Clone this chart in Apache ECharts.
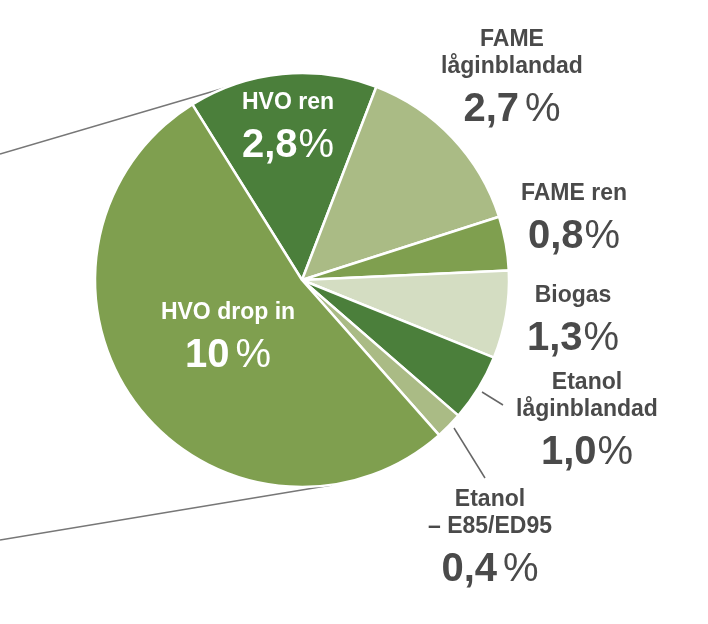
<!DOCTYPE html>
<html><head><meta charset="utf-8">
<script src="https://cdn.jsdelivr.net/npm/echarts@6/dist/echarts.min.js"></script>
<style>html,body{margin:0;padding:0;background:#fff}#c{width:708px;height:624px}</style>
</head><body><div id="c"></div>
<script>
const categories = ['HVO ren', 'FAME låginblandad', 'FAME ren', 'Biogas', 'Etanol låginblandad', 'Etanol – E85/ED95', 'HVO drop in'];
const nameLines = [['HVO ren'], ['FAME', 'låginblandad'], ['FAME ren'], ['Biogas'], ['Etanol', 'låginblandad'], ['Etanol', '– E85/ED95'], ['HVO drop in']];
const values = [2.8, 2.7, 0.8, 1.3, 1.0, 0.4, 10];
const valueLabels = ['2,8', '2,7', '0,8', '1,3', '1,0', '0,4', '10'];
const pctGap = [false, true, false, false, false, true, true];
const colors = ['#4b7f3b', '#aabb85', '#7f9f4f', '#d4ddc2', '#4b7f3b', '#aabb85', '#7f9f4f'];
const inside = [true, false, false, false, false, false, true];
// label anchor positions (center x, top y)
const labelPos = [[288, 89], [512, 26], [574, 180], [573, 282], [587, 369], [490, 486], [228, 299]];

const chart = echarts.init(document.getElementById('c'));
const font = '"Liberation Sans", Arial, Helvetica, sans-serif';
function richFor(col) {
  return {
    n: { fontFamily: font, fontSize: 23, fontWeight: 'bold', color: col, lineHeight: 27, align: 'center' },
    v: { fontFamily: font, fontSize: 40, fontWeight: 'bold', color: col, lineHeight: 60 },
    p: { fontFamily: font, fontSize: 40, fontWeight: 'normal', color: col, lineHeight: 60, padding: [0, 0, 0, 1] },
    ps: { fontFamily: font, fontSize: 40, fontWeight: 'normal', color: col, lineHeight: 60, padding: [0, 0, 0, 6] }
  };
}
const data = categories.map((c, i) => ({
  name: c,
  value: values[i],
  itemStyle: { color: colors[i] },
  label: {
    show: true,
    position: inside[i] ? 'inside' : 'outside',
    formatter: nameLines[i].map(s => '{n|' + s + '}').join('\n') + '\n{v|' + valueLabels[i] + '}{' + (pctGap[i] ? 'ps' : 'p') + '|%}',
    rich: richFor(inside[i] ? '#ffffff' : '#4a4a4a'),
    align: 'center'
  },
  labelLine: { show: false }
}));

chart.setOption({
  animation: false,
  graphic: [
    { type: 'line', shape: { x1: 0, y1: 154, x2: 238, y2: 84 }, style: { stroke: '#777777', lineWidth: 1.6 }, z: 0 },
    { type: 'line', shape: { x1: 0, y1: 540, x2: 332, y2: 485 }, style: { stroke: '#777777', lineWidth: 1.6 }, z: 0 },
    { type: 'line', shape: { x1: 482, y1: 392, x2: 503, y2: 405 }, style: { stroke: '#666666', lineWidth: 1.5 }, z: 0 },
    { type: 'line', shape: { x1: 454, y1: 428, x2: 485, y2: 478 }, style: { stroke: '#666666', lineWidth: 1.5 }, z: 0 }
  ],
  series: [{
    type: 'pie',
    center: [302, 280],
    radius: 207,
    startAngle: 122,
    clockwise: true,
    avoidLabelOverlap: false,
    itemStyle: { borderColor: '#ffffff', borderWidth: 2.5 },
    emphasis: { disabled: true },
    labelLayout: function (p) {
      const pos = labelPos[p.dataIndex];
      return { x: pos[0], y: pos[1], align: 'center', verticalAlign: 'top', draggable: false };
    },
    data: data,
    z: 2
  }]
});
</script></body></html>
